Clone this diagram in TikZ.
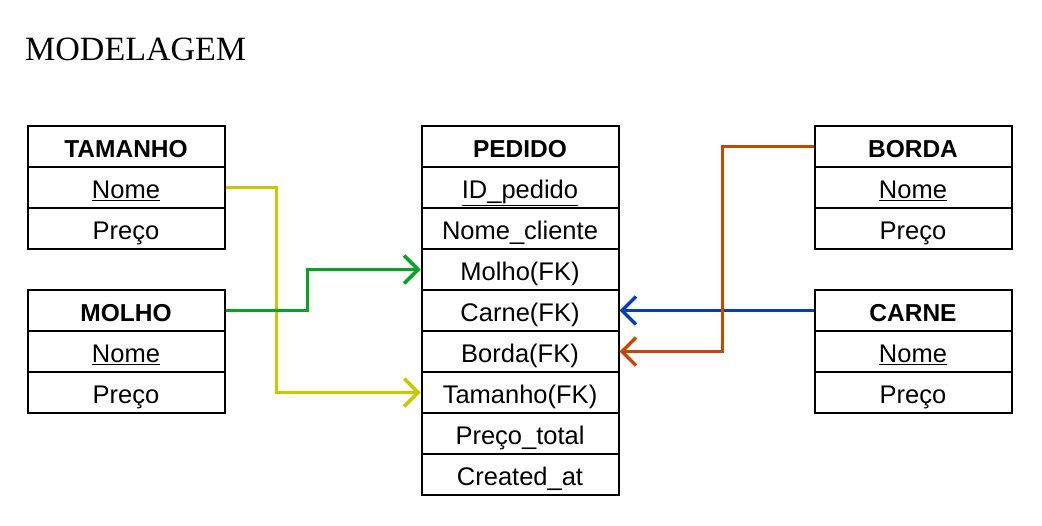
\documentclass[tikz,border=0pt]{standalone}
\usepackage{fontspec}
\usepackage{tikz}
\usepackage{xcolor}
\usetikzlibrary{positioning, arrows.meta, calc}
\newfontfamily\tablefont{Liberation Sans}
\newfontfamily\titlefont{Liberation Serif}

\definecolor{lnkyellow}{RGB}{204,200,0}
\definecolor{lnkgreen}{RGB}{0,168,30}
\definecolor{lnkblue}{RGB}{0,64,184}
\definecolor{lnkorange}{RGB}{196,72,0}

\begin{document}
\begin{tikzpicture}[
  x=1pt, y=-1pt,
  every node/.style={font=\tablefont\fontsize{25.5}{30}\selectfont},
  field/.style={draw, line width=2pt, minimum width=197pt, minimum height=41pt, inner sep=0pt,
    text height=22pt, text depth=0.7pt, anchor=center},
  header/.style={field, font=\tablefont\bfseries\fontsize{24.5}{30}\selectfont},
  link/.style={line width=3.5pt, -{Straight Barb[length=14pt, width=28pt]}}
]
\useasboundingbox (0,0) rectangle (1042,526);

% Title
\node[anchor=base west, inner sep=0pt, font=\titlefont\fontsize{34}{40}\selectfont]
  (title) at (25, 61) {MODELAGEM};

% TAMANHO
\node[header] (tam-h) at (126, 146.5) {TAMANHO};
\node[field] (tam-1) at (126, 187.5) {\underline{Nome}};
\node[field] (tam-2) at (126, 228.5) {Preço};

% MOLHO
\node[header] (mol-h) at (126, 310.5) {MOLHO};
\node[field] (mol-1) at (126, 351.5) {\underline{Nome}};
\node[field] (mol-2) at (126, 392.5) {Preço};

% PEDIDO
\node[header] (ped-h) at (520, 146.5) {PEDIDO};
\node[field] (ped-1) at (520, 187.5) {\underline{ID\_pedido}};
\node[field] (ped-2) at (520, 228.5) {Nome\_cliente};
\node[field] (ped-3) at (520, 269.5) {Molho(FK)};
\node[field] (ped-4) at (520, 310.5) {Carne(FK)};
\node[field] (ped-5) at (520, 351.5) {Borda(FK)};
\node[field] (ped-6) at (520, 392.5) {Tamanho(FK)};
\node[field] (ped-7) at (520, 433.5) {Preço\_total};
\node[field] (ped-8) at (520, 474.5) {Created\_at};

% BORDA
\node[header] (bor-h) at (913, 146.5) {BORDA};
\node[field] (bor-1) at (913, 187.5) {\underline{Nome}};
\node[field] (bor-2) at (913, 228.5) {Preço};

% CARNE
\node[header] (car-h) at (913, 310.5) {CARNE};
\node[field] (car-1) at (913, 351.5) {\underline{Nome}};
\node[field] (car-2) at (913, 392.5) {Preço};

% Foreign keys
\draw[link, lnkyellow] (tam-1.east) -- ++(51,0) |- (ped-6.west);
\draw[link, lnkgreen] (mol-h.east) -- ++(82,0) |- (ped-3.west);
\draw[link, lnkblue] (car-h.west) -- (ped-4.east);
\draw[link, lnkorange] (bor-h.west) -- ++(-91,0) |- (ped-5.east);

\end{tikzpicture}
\end{document}
